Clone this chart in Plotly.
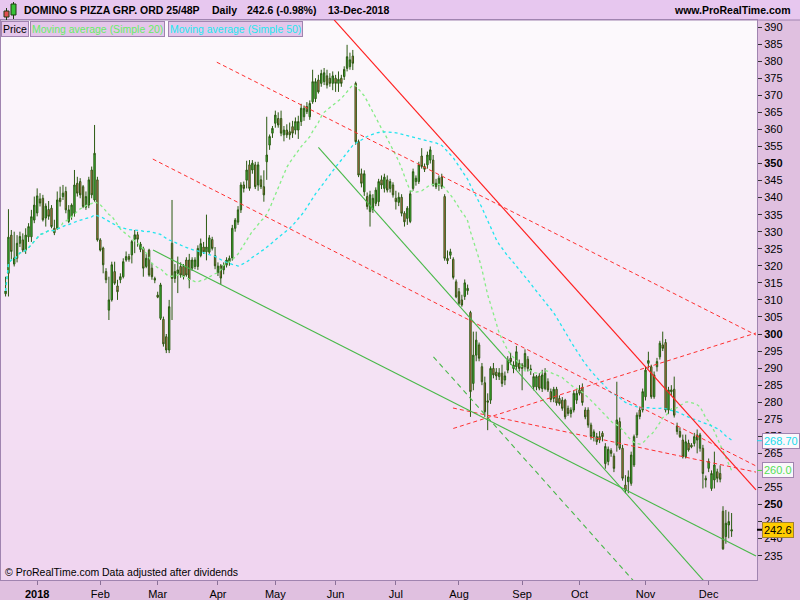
import numpy as np
import pandas as pd
import plotly.graph_objects as go

# ---------------- data ----------------
opens = [311.8, 317.8, 329.0, 320.5, 322.2, 326.6, 327.6, 324.6, 328.5, 328.5,
 333.4, 335.5, 339.6, 339.8, 334.0, 336.5, 336.9, 331.0, 331.0, 339.8,
 340.3, 341.8, 333.0, 334.4, 335.4, 344.2, 344.7, 343.2, 337.2, 337.8,
 348.1, 339.3, 345.2, 327.6, 325.2, 318.3, 307.0, 310.0, 318.3, 314.1,
 315.9, 316.8, 321.7, 322.7, 323.2, 327.8, 329.1, 324.8, 325.1, 319.8,
 324.6, 319.3, 316.3, 311.4, 304.6, 304.3, 299.2, 295.3, 326.6, 316.3,
 317.8, 319.8, 319.8, 321.7, 321.7, 319.3, 319.8, 319.8, 323.0, 325.5,
 324.1, 324.0, 327.7, 323.0, 318.0, 320.0, 318.8, 320.2, 321.2, 322.3,
 331.0, 332.8, 336.4, 343.7, 345.1, 349.6, 348.1, 349.6, 343.7, 345.2,
 343.2, 350.5, 355.4, 358.9, 361.8, 363.2, 363.2, 358.4, 359.8, 359.3,
 360.8, 359.8, 359.8, 362.3, 363.7, 366.7, 363.7, 368.1, 369.0, 374.5,
 373.5, 374.0, 375.7, 375.0, 373.5, 375.0, 373.5, 375.0, 375.5, 377.9,
 378.4, 381.5, 373.5, 356.4, 347.0, 341.7, 340.3, 335.9, 336.5, 338.3,
 338.8, 345.2, 342.7, 345.2, 342.7, 343.7, 339.8, 338.6, 340.1, 335.4,
 333.9, 333.0, 342.7, 344.7, 344.7, 352.2, 349.1, 349.6, 351.0, 351.0,
 343.2, 343.7, 346.0, 340.3, 322.2, 323.1, 321.9, 315.3, 312.4, 310.0,
 311.0, 312.7, 306.3, 285.5, 293.8, 296.8, 290.4, 285.7, 280.4, 280.6,
 289.9, 288.8, 287.5, 288.5, 286.5, 289.4, 292.9, 289.9, 290.4, 291.4,
 290.9, 290.4, 292.6, 289.4, 284.5, 284.5, 287.7, 284.0, 284.0, 286.0,
 283.1, 281.1, 283.8, 281.1, 280.6, 280.6, 278.2, 276.7, 277.7, 280.6,
 283.6, 284.3, 277.7, 277.7, 273.3, 269.9, 269.9, 269.9, 270.9, 262.0,
 262.6, 265.8, 264.2, 267.4, 274.3, 266.5, 255.7, 256.7, 256.2, 261.6,
 270.4, 277.7, 277.7, 281.6, 291.4, 290.4, 281.6, 290.4, 293.3, 296.8,
 297.5, 277.7, 283.6, 283.8, 273.0, 271.4, 268.9, 264.0, 268.0, 267.4,
 267.9, 270.4, 266.5, 266.5, 257.7, 260.6, 254.7, 257.2, 259.6, 259.1,
 248.0, 240.6, 244.0, 242.2]

highs = [316.8, 336.6, 330.5, 330.0, 329.0, 330.0, 329.5, 331.0, 332.5, 336.4,
 340.3, 342.7, 341.3, 340.8, 338.3, 339.0, 337.8, 333.5, 341.8, 343.2,
 343.7, 343.2, 337.8, 338.3, 348.1, 346.1, 345.7, 343.7, 341.8, 346.1,
 349.1, 361.3, 346.1, 328.1, 325.6, 319.3, 316.8, 321.2, 321.2, 315.9,
 317.8, 322.2, 324.2, 323.5, 327.6, 330.5, 330.0, 327.0, 325.6, 323.5,
 325.0, 320.8, 316.8, 312.4, 315.0, 305.1, 300.0, 310.0, 339.3, 320.5,
 322.7, 321.0, 320.5, 322.5, 323.5, 322.5, 322.5, 326.0, 328.0, 327.0,
 335.0, 329.0, 328.5, 325.5, 321.0, 320.5, 321.0, 322.5, 323.0, 332.0,
 334.0, 337.5, 344.5, 344.7, 350.8, 351.0, 351.0, 350.5, 350.5, 346.5,
 348.0, 363.7, 358.5, 361.0, 365.5, 365.0, 365.5, 361.0, 361.5, 362.0,
 362.5, 363.5, 364.0, 367.5, 367.0, 368.0, 368.5, 377.5, 375.0, 376.0,
 377.5, 378.0, 377.5, 376.5, 377.0, 376.0, 377.0, 376.0, 378.5, 384.8,
 382.5, 383.3, 374.0, 357.0, 348.5, 348.0, 341.5, 342.0, 341.0, 343.0,
 345.5, 346.5, 347.0, 346.5, 345.5, 344.5, 342.0, 341.5, 341.0, 336.0,
 337.5, 342.0, 348.5, 346.5, 350.5, 354.5, 350.0, 353.5, 355.0, 352.5,
 345.5, 346.5, 347.0, 341.0, 324.5, 325.0, 322.5, 316.0, 313.5, 311.5,
 316.0, 314.5, 306.8, 300.7, 300.7, 297.5, 291.5, 287.5, 282.6, 290.5,
 291.5, 290.0, 290.0, 291.0, 289.0, 293.5, 294.5, 292.0, 296.5, 292.5,
 291.5, 295.5, 293.5, 291.0, 288.5, 288.0, 288.5, 289.5, 290.0, 287.0,
 284.0, 284.5, 284.5, 282.0, 281.5, 281.0, 279.0, 278.5, 283.5, 283.5,
 285.0, 285.5, 278.5, 278.5, 274.0, 272.0, 271.0, 271.5, 271.5, 268.0,
 267.0, 266.5, 265.0, 286.0, 275.5, 267.5, 258.6, 260.0, 265.5, 270.5,
 277.0, 278.5, 284.0, 290.4, 294.8, 291.0, 289.0, 293.0, 298.0, 300.7,
 298.5, 284.5, 285.0, 287.5, 274.0, 272.5, 270.5, 270.5, 269.0, 268.0,
 271.0, 272.0, 271.0, 267.5, 258.5, 263.5, 260.0, 265.5, 260.5, 261.5,
 249.5, 248.4, 247.9, 247.5]

lows = [311.0, 311.0, 322.0, 319.8, 321.0, 325.5, 324.0, 323.5, 327.0, 327.0,
 332.5, 334.5, 337.4, 333.0, 331.5, 333.5, 331.0, 329.0, 330.5, 337.4,
 339.3, 335.4, 332.5, 333.5, 334.4, 340.3, 339.8, 336.9, 336.4, 336.9,
 339.8, 338.8, 327.1, 324.2, 317.8, 314.9, 304.1, 309.5, 314.4, 310.0,
 314.9, 316.3, 321.2, 321.2, 320.7, 323.7, 325.6, 324.0, 316.8, 319.3,
 316.8, 315.9, 314.9, 310.5, 304.1, 296.3, 294.4, 294.4, 304.1, 315.0,
 312.0, 316.5, 316.0, 316.8, 313.4, 318.5, 319.0, 318.8, 322.5, 323.5,
 321.6, 323.5, 324.5, 319.0, 317.0, 314.5, 317.5, 319.5, 320.0, 321.5,
 330.0, 332.0, 335.5, 341.5, 342.7, 342.0, 347.0, 342.5, 342.0, 342.5,
 338.8, 345.2, 354.0, 357.5, 360.5, 360.5, 358.0, 356.5, 357.5, 357.0,
 357.5, 358.5, 357.2, 361.0, 362.5, 364.5, 362.8, 367.5, 368.0, 370.5,
 372.5, 373.0, 372.0, 372.5, 371.5, 371.0, 371.0, 372.5, 374.5, 377.0,
 377.5, 377.4, 355.5, 346.0, 343.0, 340.5, 336.5, 331.5, 335.5, 337.5,
 337.5, 342.5, 341.5, 341.5, 341.5, 340.0, 336.5, 337.5, 334.5, 331.5,
 332.0, 332.5, 342.0, 343.5, 344.0, 348.5, 347.5, 348.5, 350.0, 343.2,
 342.5, 342.0, 342.5, 321.5, 320.5, 322.0, 316.0, 310.5, 308.5, 308.0,
 310.0, 311.5, 275.7, 283.5, 292.0, 292.0, 285.0, 275.7, 271.8, 279.5,
 287.0, 286.5, 286.5, 284.5, 285.0, 288.5, 291.0, 288.5, 289.5, 289.0,
 283.5, 289.5, 289.0, 288.0, 283.5, 283.5, 283.5, 283.0, 283.5, 283.0,
 280.0, 280.0, 279.0, 279.0, 277.5, 275.0, 276.0, 275.5, 277.0, 279.5,
 282.0, 279.0, 275.0, 272.5, 269.0, 268.5, 267.5, 268.0, 268.5, 260.5,
 261.5, 264.0, 259.5, 265.5, 266.0, 257.0, 253.3, 253.3, 255.5, 261.0,
 269.5, 275.0, 277.0, 280.5, 289.9, 281.0, 281.0, 289.0, 292.5, 295.0,
 277.0, 276.5, 282.0, 275.5, 270.5, 269.5, 263.5, 263.5, 265.5, 266.5,
 267.0, 265.0, 265.5, 254.7, 255.0, 259.5, 254.0, 254.7, 256.5, 256.5,
 236.7, 238.5, 240.1, 240.5]

closes = [312.6, 328.4, 324.2, 322.3, 326.6, 328.6, 324.6, 329.0, 331.5, 334.4,
 337.8, 340.5, 338.4, 333.5, 337.5, 334.5, 331.5, 329.7, 339.3, 338.8,
 341.3, 336.4, 336.4, 337.8, 343.7, 341.3, 340.8, 337.4, 340.3, 345.2,
 340.8, 353.0, 327.6, 324.6, 320.3, 315.9, 310.0, 320.3, 314.9, 312.4,
 316.8, 321.2, 322.7, 321.9, 327.1, 329.1, 327.8, 326.4, 319.3, 322.2,
 317.3, 316.8, 315.8, 310.8, 314.4, 297.1, 295.3, 308.0, 316.3, 318.3,
 318.8, 317.3, 316.8, 317.3, 315.9, 321.7, 321.7, 325.1, 326.5, 324.1,
 325.5, 328.2, 325.1, 320.0, 319.9, 316.4, 320.2, 321.7, 322.2, 331.0,
 333.4, 336.4, 343.7, 342.7, 348.1, 342.7, 350.1, 343.2, 349.6, 343.2,
 340.8, 352.5, 357.9, 360.3, 364.2, 361.3, 358.9, 359.8, 358.4, 358.4,
 358.9, 362.3, 362.3, 366.2, 366.2, 365.2, 367.6, 374.0, 374.0, 371.0,
 376.4, 376.6, 373.0, 373.5, 375.7, 373.5, 374.7, 373.5, 377.6, 381.3,
 380.4, 379.4, 356.4, 346.6, 344.2, 347.0, 337.4, 340.8, 339.8, 342.2,
 344.7, 343.7, 346.0, 342.2, 344.7, 340.8, 338.8, 340.1, 335.4, 332.9,
 336.9, 341.1, 347.6, 345.7, 349.6, 349.1, 348.3, 352.5, 354.0, 343.7,
 344.2, 345.7, 343.2, 322.2, 321.5, 324.1, 316.6, 310.9, 309.0, 308.5,
 315.0, 313.4, 283.1, 293.8, 298.2, 292.9, 286.0, 277.2, 280.0, 289.9,
 288.0, 287.7, 288.6, 285.5, 287.7, 292.4, 291.9, 290.9, 294.8, 289.9,
 289.9, 294.3, 289.9, 289.7, 287.5, 287.5, 284.1, 288.0, 288.5, 283.6,
 280.8, 283.8, 279.8, 279.6, 278.2, 275.7, 276.7, 277.7, 282.6, 282.6,
 282.6, 279.9, 275.7, 273.3, 269.9, 271.3, 268.4, 268.9, 269.9, 267.0,
 266.2, 265.0, 260.6, 274.8, 266.5, 257.7, 254.2, 258.1, 264.5, 269.9,
 276.2, 275.8, 283.1, 289.4, 292.2, 281.6, 288.0, 291.9, 297.3, 295.8,
 277.7, 283.6, 283.1, 276.2, 271.4, 269.9, 264.0, 268.4, 266.0, 266.9,
 269.9, 268.9, 270.4, 259.1, 257.2, 262.6, 259.1, 261.6, 257.7, 257.4,
 237.0, 244.5, 245.0, 242.6]

last_date = "2018-12-13"
uk_holidays = ["2017-12-25", "2017-12-26", "2018-01-01", "2018-03-30", "2018-04-02",
               "2018-05-07", "2018-05-28", "2018-08-27"]

# trendlines as (trading-day index, price) pairs
red_solid = [(114.5, 392.1), (261.5, 254.3)]
red_dashed = [[(73.6, 379.7), (261.5, 299.7)],
              [(51.3, 351.3), (261.5, 261.3)],
              [(156.0, 272.3), (261.5, 300.3)],
              [(155.9, 278.3), (261.5, 259.5)]]
green_solid = [[(51.4, 324.6), (261.5, 234.9)],
               [(109.0, 354.7), (245.0, 226.0)]]
green_dashed = [[(149.1, 293.3), (220.0, 226.5)]]

y_ticks = list(range(235, 391, 5))
bold_ticks = [250, 300, 350]
ma_labels = [("268.70", 268.70, "#18dced"), ("260.0", 260.0, "#55e055")]
last_label = ("242.6", 242.6)

title_parts = [("DOMINO S PIZZA GRP. ORD 25/48P", 22), ("Daily", 210),
               ("242.6 (-0.98%)", 245), ("13-Dec-2018", 326)]

# ---------------- derived ----------------
N = len(closes)
dates = pd.bdate_range(end=last_date, periods=N, freq="C", holidays=uk_holidays)
xi = np.arange(N)
ma20 = pd.Series(closes).rolling(20, min_periods=1).mean()
ma50 = pd.Series(closes).rolling(50, min_periods=1).mean()

tickvals, ticktext = [], []
for k in range(1, N):
    if dates[k].month != dates[k - 1].month:
        tickvals.append(k)
        ticktext.append("<b>2018</b>" if dates[k].month == 1 else dates[k].strftime("%b"))

FONT = "Liberation Sans, Arial, sans-serif"
OUT = "#2b5a12"

# plot area in pixels
PL, PR, PT, PB = 1, 757, 20, 580
PW, PH = PR - PL, PB - PT


def px(xp):
    return (xp - PL) / PW


def py(yp):
    return 1 - (yp - PT) / PH


fig = go.Figure()
fig.add_trace(go.Candlestick(
    x=xi, open=opens, high=highs, low=lows, close=closes,
    increasing=dict(line=dict(color=OUT, width=1), fillcolor="#38c238"),
    decreasing=dict(line=dict(color=OUT, width=1), fillcolor="#e46a5c"),
    whiskerwidth=0, hoverinfo="skip", showlegend=False))
fig.add_trace(go.Scatter(x=xi, y=ma20, mode="lines", hoverinfo="skip",
                         line=dict(color="#86ec86", width=1.3, dash="3px,3px")))
fig.add_trace(go.Scatter(x=xi, y=ma50, mode="lines", hoverinfo="skip",
                         line=dict(color="#22e4ee", width=1.3, dash="3px,3px")))

shapes = []
# gradient plot background
nb = 56
c0, c1 = np.array([253, 250, 253]), np.array([240, 213, 240])
for b in range(nb):
    c = c0 + (c1 - c0) * (b + 0.5) / nb
    shapes.append(dict(type="rect", xref="paper", yref="paper", x0=0, x1=1,
                       y0=1 - (b + 1) / nb, y1=1 - b / nb, layer="below",
                       line=dict(width=0), fillcolor="rgb(%d,%d,%d)" % tuple(c.astype(int))))
# top bar
shapes.append(dict(type="rect", xref="paper", yref="paper", x0=px(0), x1=px(800),
                   y0=1, y1=py(0), line=dict(width=0), fillcolor="#e7c7ef", layer="below"))
shapes.append(dict(type="line", xref="paper", yref="paper", x0=px(0), x1=px(800),
                   y0=py(20), y1=py(20), line=dict(color="#a084b0", width=1)))


def seg(p, color, dash=None, width=1):
    return dict(type="line", xref="x", yref="y", x0=p[0][0], y0=p[0][1], x1=p[1][0], y1=p[1][1],
                line=dict(color=color, width=width, dash=dash))


shapes.append(seg(red_solid, "#ff2020", None, 1.2))
for p in red_dashed:
    shapes.append(seg(p, "#ff3030", "4px,3px", 1))
for p in green_solid:
    shapes.append(seg(p, "#48b848", None, 1.1))
for p in green_dashed:
    shapes.append(seg(p, "#48b848", "5px,4px", 1.1))

# icon in title bar
for (x0, x1, y0, y1, wy0, wy1, fc) in [(4, 9, 11, 17, 8, 20, "#e05050"), (11, 16, 4, 15, 2, 19, "#38c238")]:
    xm = (x0 + x1) / 2
    shapes.append(dict(type="line", xref="paper", yref="paper", x0=px(xm), x1=px(xm),
                       y0=py(wy0), y1=py(wy1), line=dict(color="#1e3a10", width=1)))
    shapes.append(dict(type="rect", xref="paper", yref="paper", x0=px(x0), x1=px(x1),
                       y0=py(y1), y1=py(y0), line=dict(color="#1e3a10", width=1), fillcolor=fc))

# small coloured ticks for value labels
for (t, v, col) in ma_labels:
    shapes.append(dict(type="line", xref="paper", yref="y", x0=1, x1=px(762), y0=v, y1=v,
                       line=dict(color=col, width=1)))
shapes.append(dict(type="line", xref="paper", yref="y", x0=1, x1=px(762), y0=last_label[1],
                   y1=last_label[1], line=dict(color="#000", width=2)))

ann = []
for (t, xp) in title_parts:
    ann.append(dict(text="<b>%s</b>" % t, xref="paper", yref="paper", x=px(xp), y=py(10),
                    xanchor="left", yanchor="middle", showarrow=False,
                    font=dict(family=FONT, size=10.5, color="#000")))
ann.append(dict(text="<b>www.ProRealTime.com</b>", xref="paper", yref="paper", x=px(793), y=py(10),
                xanchor="right", yanchor="middle", showarrow=False,
                font=dict(family=FONT, size=10.5, color="#000")))
# legend boxes
for (t, xp, col) in [("Price", 1, "#000000"), ("Moving average (Simple 20)", 30, "#66ee66"),
                     ("Moving average (Simple 50)", 168, "#22e8f0")]:
    ann.append(dict(text=t, xref="paper", yref="paper", x=px(xp), y=py(21), xanchor="left",
                    yanchor="top", showarrow=False, bgcolor="#e4c6ea", bordercolor="#a084b0",
                    borderwidth=1, borderpad=1, font=dict(family=FONT, size=10.5, color=col)))
# copyright
ann.append(dict(text="© ProRealTime.com", xref="paper", yref="paper", x=px(3), y=py(580),
                xanchor="left", yanchor="bottom", showarrow=False,
                font=dict(family=FONT, size=10.5, color="#000")))
ann.append(dict(text="Data adjusted after dividends", xref="paper", yref="paper", x=px(100), y=py(580),
                xanchor="left", yanchor="bottom", showarrow=False,
                font=dict(family=FONT, size=10.5, color="#000")))
# right value labels
for (t, v, col) in ma_labels:
    ann.append(dict(text=t, xref="paper", yref="y", x=px(762), y=v, xanchor="left", yanchor="middle",
                    showarrow=False, bgcolor="#fbf7fb", bordercolor="#a084b0", borderwidth=1,
                    borderpad=1, font=dict(family=FONT, size=11, color=col)))
ann.append(dict(text=last_label[0], xref="paper", yref="y", x=px(762), y=last_label[1],
                xanchor="left", yanchor="middle", showarrow=False, bgcolor="#ffcc00",
                bordercolor="#a08030", borderwidth=1, borderpad=1,
                font=dict(family=FONT, size=11, color="#000")))

ytext = ["<b>%d</b>" % v if v in bold_ticks else str(v) for v in y_ticks]

fig.update_layout(
    width=800, height=600,
    margin=dict(l=PL, r=800 - PR, t=PT, b=600 - PB, pad=0, autoexpand=False),
    paper_bgcolor="#e0c0e0", plot_bgcolor="#f6e9f6",
    showlegend=False, shapes=shapes, annotations=ann,
    xaxis=dict(range=[-1.6, 261.85], tickvals=tickvals, ticktext=ticktext, ticks="outside",
               ticklen=4, tickcolor="#8a7098", showgrid=False, zeroline=False, showline=True,
               linecolor="#a084b0", mirror=True, rangeslider=dict(visible=False), automargin=False,
               tickfont=dict(family=FONT, size=11, color="#000")),
    yaxis=dict(side="right", range=[227.86, 392.08], tickvals=y_ticks, ticktext=ytext,
               ticks="outside", ticklen=4, tickcolor="#333", showgrid=False, zeroline=False,
               showline=True, linecolor="#a084b0", mirror=True, automargin=False,
               tickfont=dict(family=FONT, size=11, color="#000")),
)

fig.write_html("out.html", config={"displayModeBar": False},
               post_script="document.body.style.margin='0';document.body.style.overflow='hidden';")
